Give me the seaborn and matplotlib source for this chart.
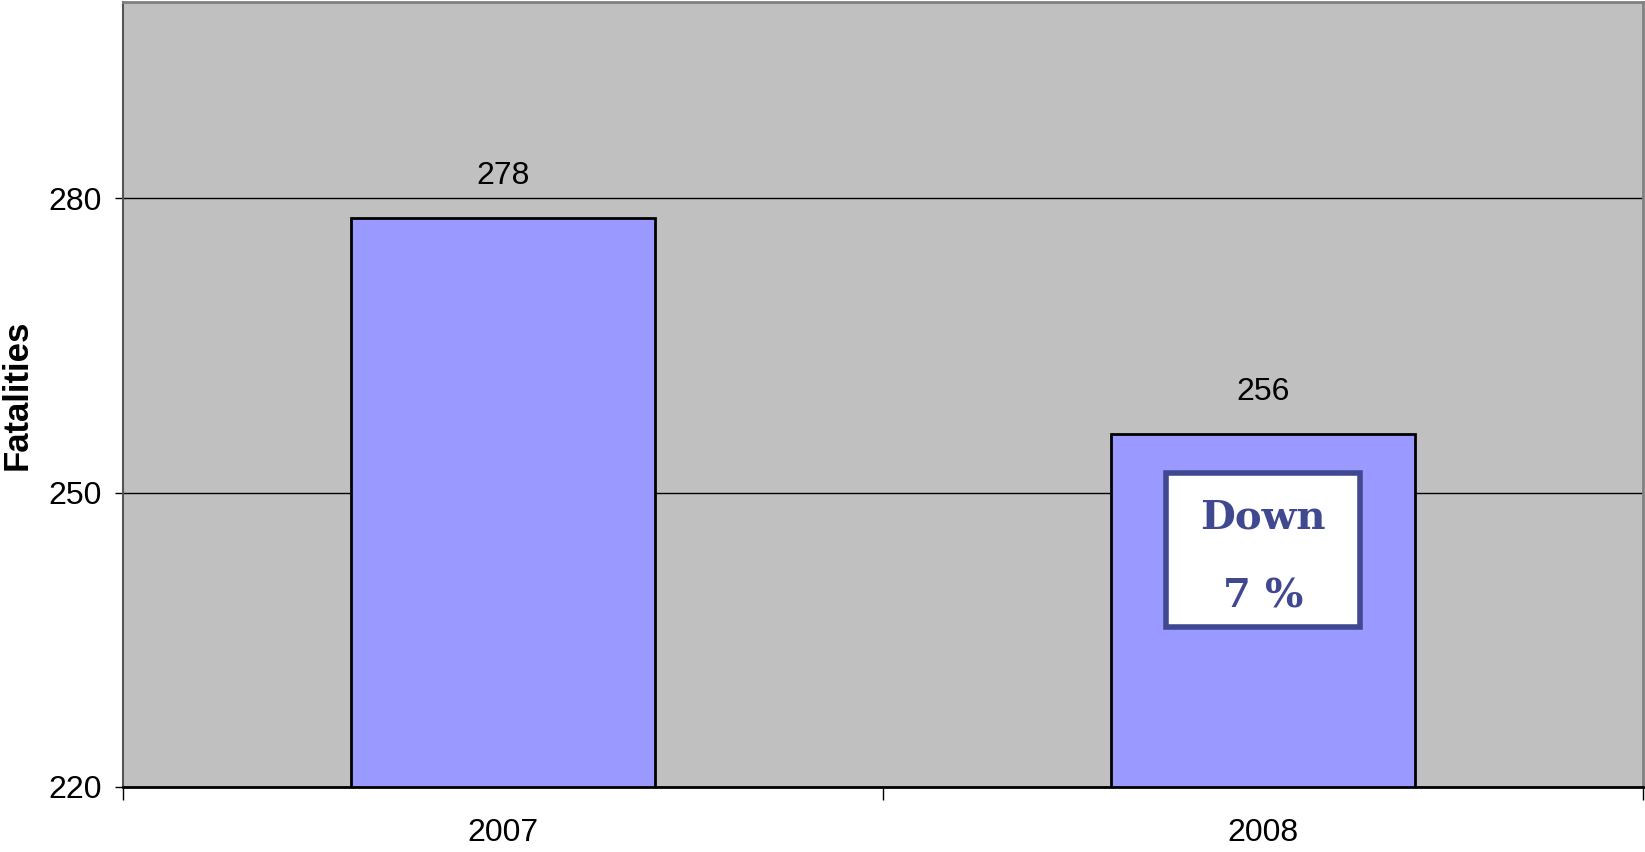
import seaborn as sns
import matplotlib.pyplot as plt
import pandas as pd
from matplotlib.patches import Rectangle

years = ['2007', '2008']
fatalities = [278, 256]
change_text = ['Down', '7 %']

df = pd.DataFrame({'year': years, 'fatalities': fatalities})

sns.set_theme(style='white')
plt.rcParams['font.family'] = ['Liberation Sans', 'DejaVu Sans']
plt.rcParams['text.color'] = 'black'
plt.rcParams['axes.labelcolor'] = 'black'
plt.rcParams['xtick.color'] = 'black'
plt.rcParams['ytick.color'] = 'black'

fig, ax = plt.subplots(figsize=(16.45, 8.52), dpi=100)
fig.subplots_adjust(left=0.0748, right=0.9988, top=0.9977, bottom=0.0763)

ax.set_facecolor('#C0C0C0')
ax.set_axisbelow(True)
ax.yaxis.grid(True, color='black', linewidth=1.0)

sns.barplot(data=df, x='year', y='fatalities', color='#9999FF', saturation=1,
            width=0.4, edgecolor='black', linewidth=2, ax=ax)

ax.set_ylim(220, 300)
ax.set_xlim(-0.5, 1.5)
ax.set_yticks([220, 250, 280])
ax.tick_params(axis='y', labelsize=23, length=6, width=1, pad=9, left=True)
ax.set_xticks([0, 1])
ax.set_xticklabels(years)
ax.set_xticks([-0.5, 0.5, 1.5], minor=True)
ax.tick_params(axis='x', which='major', length=0, labelsize=23, pad=22)
ax.tick_params(axis='x', which='minor', length=9, width=1, bottom=True)

ax.set_xlabel('')
ax.set_ylabel('Fatalities', fontsize=25, fontweight='bold')
ax.yaxis.set_label_coords(-0.059, 0.5)

for name in ['top', 'right']:
    ax.spines[name].set_color('#808080')
    ax.spines[name].set_linewidth(2)
ax.spines['left'].set_color('#555555')
ax.spines['left'].set_linewidth(1.5)
ax.spines['bottom'].set_color('black')
ax.spines['bottom'].set_linewidth(2)

ax.bar_label(ax.containers[0], labels=[str(v) for v in fatalities],
             fontsize=23, padding=19)

# "Down 7 %" callout on the 2008 bar
ax.add_patch(Rectangle((0.872, 236.3), 0.256, 15.7, facecolor='white',
                       edgecolor='#404890', linewidth=4, zorder=5))
ax.text(1.0, 247.5, change_text[0], ha='center', va='center', fontsize=29,
        fontweight='bold', color='#40488F', family='DejaVu Serif', zorder=6)
ax.text(1.0, 239.4, change_text[1], ha='center', va='center', fontsize=29,
        fontweight='bold', color='#40488F', family='DejaVu Serif', zorder=6)

fig.savefig('out.png', dpi=100)
